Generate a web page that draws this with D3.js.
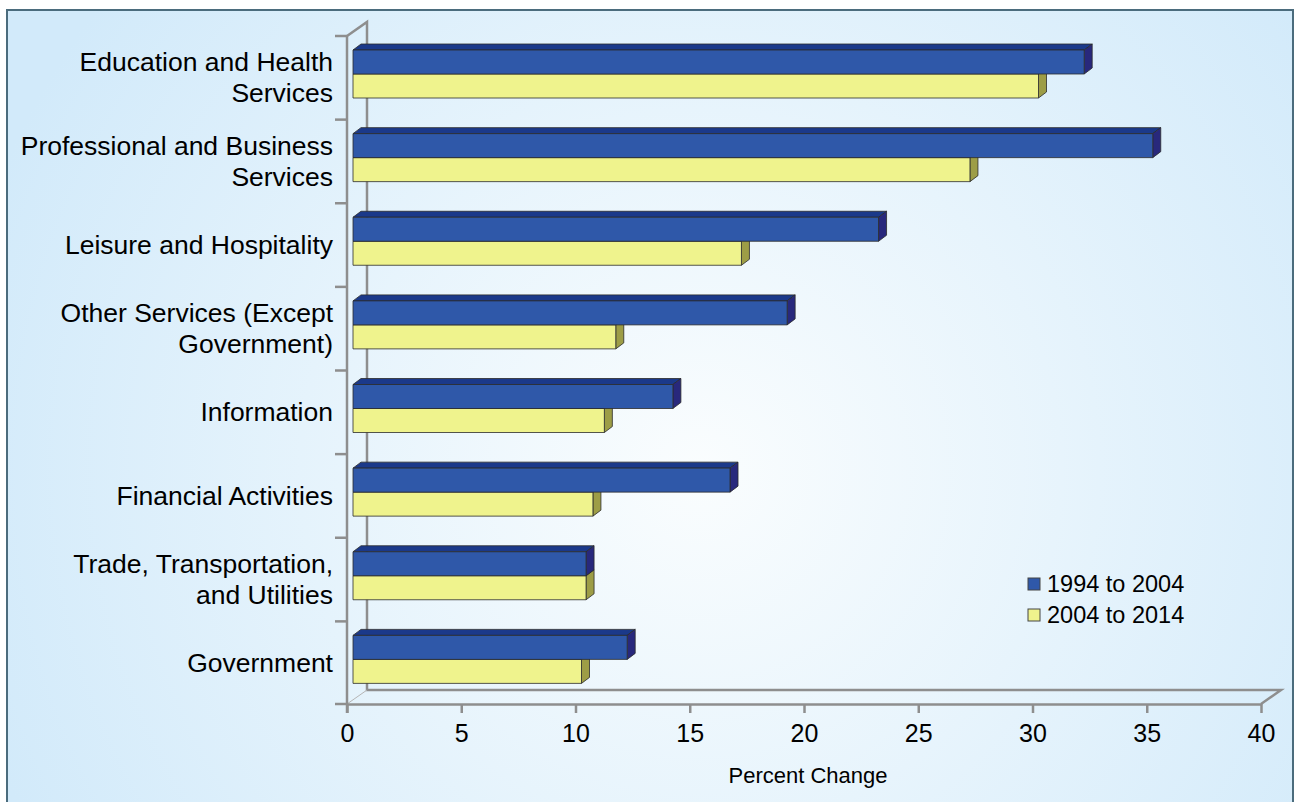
<!DOCTYPE html>
<html>
<head>
<meta charset="utf-8">
<script src="https://cdn.jsdelivr.net/npm/d3@7"></script>
<style>
  body { margin: 0; background: #fff; }
  text { font-family: "Liberation Sans", Arial, sans-serif; fill: #000; }
</style>
</head>
<body>
<svg id="chart"></svg>
<script>
var width = 1300;
var height = 802;

// category labels, "|" marks a line break
var categories = ["Education and Health|Services",
                  "Professional and Business|Services",
                  "Leisure and Hospitality",
                  "Other Services (Except|Government)",
                  "Information",
                  "Financial Activities",
                  "Trade, Transportation,|and Utilities",
                  "Government"];
var series = ["1994 to 2004", "2004 to 2014"];
var values1994 = [32, 35, 23, 19, 14, 16.5, 10.2, 12];
var values2004 = [30, 27, 17, 11.5, 11, 10.5, 10.2, 10];
var xTicks = [0, 5, 10, 15, 20, 25, 30, 35, 40];

var colors = {
  "1994 to 2004": {front: "#2f58a9", top: "#1b398a", side: "#28287c"},
  "2004 to 2014": {front: "#eff38d", top: "#d6da70", side: "#9d9d46"}
};

var plot = {left: 347, right: 1261, top: 36, bottom: 704};
var wall = {dx: 20, dy: -14};   // depth of the 3D floor / wall
var barOff = {dx: 6, dy: -4};   // bars sit a bit behind the front plane
var barDepth = {dx: 8, dy: -6};

var svg = d3.select("#chart").attr("width", width).attr("height", height);

// background
var grad = svg.append("defs").append("radialGradient")
  .attr("id", "bg").attr("gradientUnits", "userSpaceOnUse")
  .attr("cx", 700).attr("cy", 470).attr("r", 760);
grad.append("stop").attr("offset", "0%").attr("stop-color", "#fafdfe");
grad.append("stop").attr("offset", "100%").attr("stop-color", "#d2eafa");

svg.append("rect")
  .attr("x", 7).attr("y", 10).attr("width", 1286).attr("height", 800)
  .attr("fill", "url(#bg)").attr("stroke", "#4b6c7d").attr("stroke-width", 2);

var xScale = d3.scaleLinear()
  .domain([0, 40])
  .range([plot.left, plot.right]);

var yScale = d3.scaleBand()
  .domain(categories)
  .range([plot.top, plot.bottom + 1]);

var inner = d3.scaleBand()
  .domain(series)
  .range([18, 66]);

var axisColor = "#8e8e8e";

// back wall and floor
var walls = svg.append("g").attr("fill", "none")
  .attr("stroke", axisColor).attr("stroke-width", 2.5);
var bx0 = plot.left + wall.dx, bx1 = plot.right + wall.dx;
var by0 = plot.top + wall.dy, by1 = plot.bottom + wall.dy;
walls.append("path").attr("d", `M${plot.left},${plot.top}L${bx0},${by0}L${bx0},${by1}L${bx1},${by1}L${plot.right},${plot.bottom}`);
walls.append("path").attr("d", `M${plot.left},${plot.bottom}L${bx0},${by1}`).attr("stroke-width", 1).attr("stroke", "#b5b5b5");

// x axis
var xAxis = svg.append("g")
  .attr("transform", `translate(0, ${plot.bottom})`)
  .call(d3.axisBottom(xScale)
        .tickValues(xTicks)
        .tickSize(9)
        .tickSizeOuter(0)
        .tickPadding(11));
xAxis.select(".domain").attr("stroke", axisColor).attr("stroke-width", 2.5);
xAxis.selectAll(".tick line").attr("stroke", axisColor).attr("stroke-width", 2.5);
xAxis.selectAll(".tick text")
  .attr("font-size", 25)
  .attr("font-family", "Liberation Sans, Arial, sans-serif")
  .attr("fill", "#000");

// y axis line and boundary ticks
var yAxis = svg.append("g").attr("stroke", axisColor).attr("stroke-width", 2.5);
yAxis.append("line")
  .attr("x1", plot.left).attr("x2", plot.left)
  .attr("y1", plot.top).attr("y2", plot.bottom + 9);
var bounds = categories.map(function(c) { return yScale(c); })
  .concat([yScale(categories[categories.length - 1]) + yScale.bandwidth()]);
yAxis.selectAll("line.tick")
  .data(bounds)
  .enter()
  .append("line")
  .attr("class", "tick")
  .attr("x1", plot.left - 12).attr("x2", plot.left)
  .attr("y1", function(d) { return Math.min(d, plot.bottom); })
  .attr("y2", function(d) { return Math.min(d, plot.bottom); });

// category labels
var labels = svg.append("g").attr("font-size", 26.5).attr("text-anchor", "end");
categories.forEach(function(c) {
  var lines = c.split("|");
  var cy = yScale(c) + yScale.bandwidth() / 2;
  var lh = 31;
  var t = labels.append("text").attr("x", 333);
  lines.forEach(function(l, i) {
    t.append("tspan")
      .attr("x", 333)
      .attr("y", cy + 9 + (i - (lines.length - 1) / 2) * lh)
      .text(l);
  });
});

// bars
var rows = [];
categories.forEach(function(c, i) {
  rows.push({cat: c, s: series[1], v: values2004[i]});
  rows.push({cat: c, s: series[0], v: values1994[i]});
});

var bars = svg.append("g").selectAll("g.bar")
  .data(rows)
  .enter()
  .append("g")
  .attr("class", "bar")
  .attr("stroke", "#2b2b2b")
  .attr("stroke-width", 0.8)
  .attr("stroke-linejoin", "round");

function geom(d) {
  var x0 = xScale(0) + barOff.dx;
  var x1 = xScale(d.v) + barOff.dx;
  var y0 = yScale(d.cat) + inner(d.s) + barOff.dy;
  var y1 = y0 + inner.bandwidth();
  return {x0: x0, x1: x1, y0: y0, y1: y1};
}

bars.append("path")
  .attr("fill", function(d) { return colors[d.s].top; })
  .attr("d", function(d) {
    var g = geom(d);
    return `M${g.x0},${g.y0}L${g.x0 + barDepth.dx},${g.y0 + barDepth.dy}L${g.x1 + barDepth.dx},${g.y0 + barDepth.dy}L${g.x1},${g.y0}Z`;
  });
bars.append("path")
  .attr("fill", function(d) { return colors[d.s].side; })
  .attr("d", function(d) {
    var g = geom(d);
    return `M${g.x1},${g.y0}L${g.x1 + barDepth.dx},${g.y0 + barDepth.dy}L${g.x1 + barDepth.dx},${g.y1 + barDepth.dy}L${g.x1},${g.y1}Z`;
  });
bars.append("rect")
  .attr("fill", function(d) { return colors[d.s].front; })
  .attr("x", function(d) { return geom(d).x0; })
  .attr("y", function(d) { return geom(d).y0; })
  .attr("width", function(d) { var g = geom(d); return g.x1 - g.x0; })
  .attr("height", inner.bandwidth());

// axis title
svg.append("text")
  .attr("x", (plot.left + plot.right) / 2 + 4)
  .attr("y", 783)
  .attr("text-anchor", "middle")
  .attr("font-size", 22)
  .text("Percent Change");

// legend
var legend = svg.append("g").attr("transform", "translate(1028, 578)");
var item = legend.selectAll("g")
  .data(series)
  .enter()
  .append("g")
  .attr("transform", function(d, i) { return `translate(0, ${i * 31})`; });
item.append("rect")
  .attr("width", 12).attr("height", 12)
  .attr("fill", function(d) { return colors[d].front; })
  .attr("stroke", "#444").attr("stroke-width", 1);
item.append("text")
  .attr("x", 19).attr("y", 14)
  .attr("font-size", 23.5)
  .text(function(d) { return d; });
</script>
</body>
</html>
